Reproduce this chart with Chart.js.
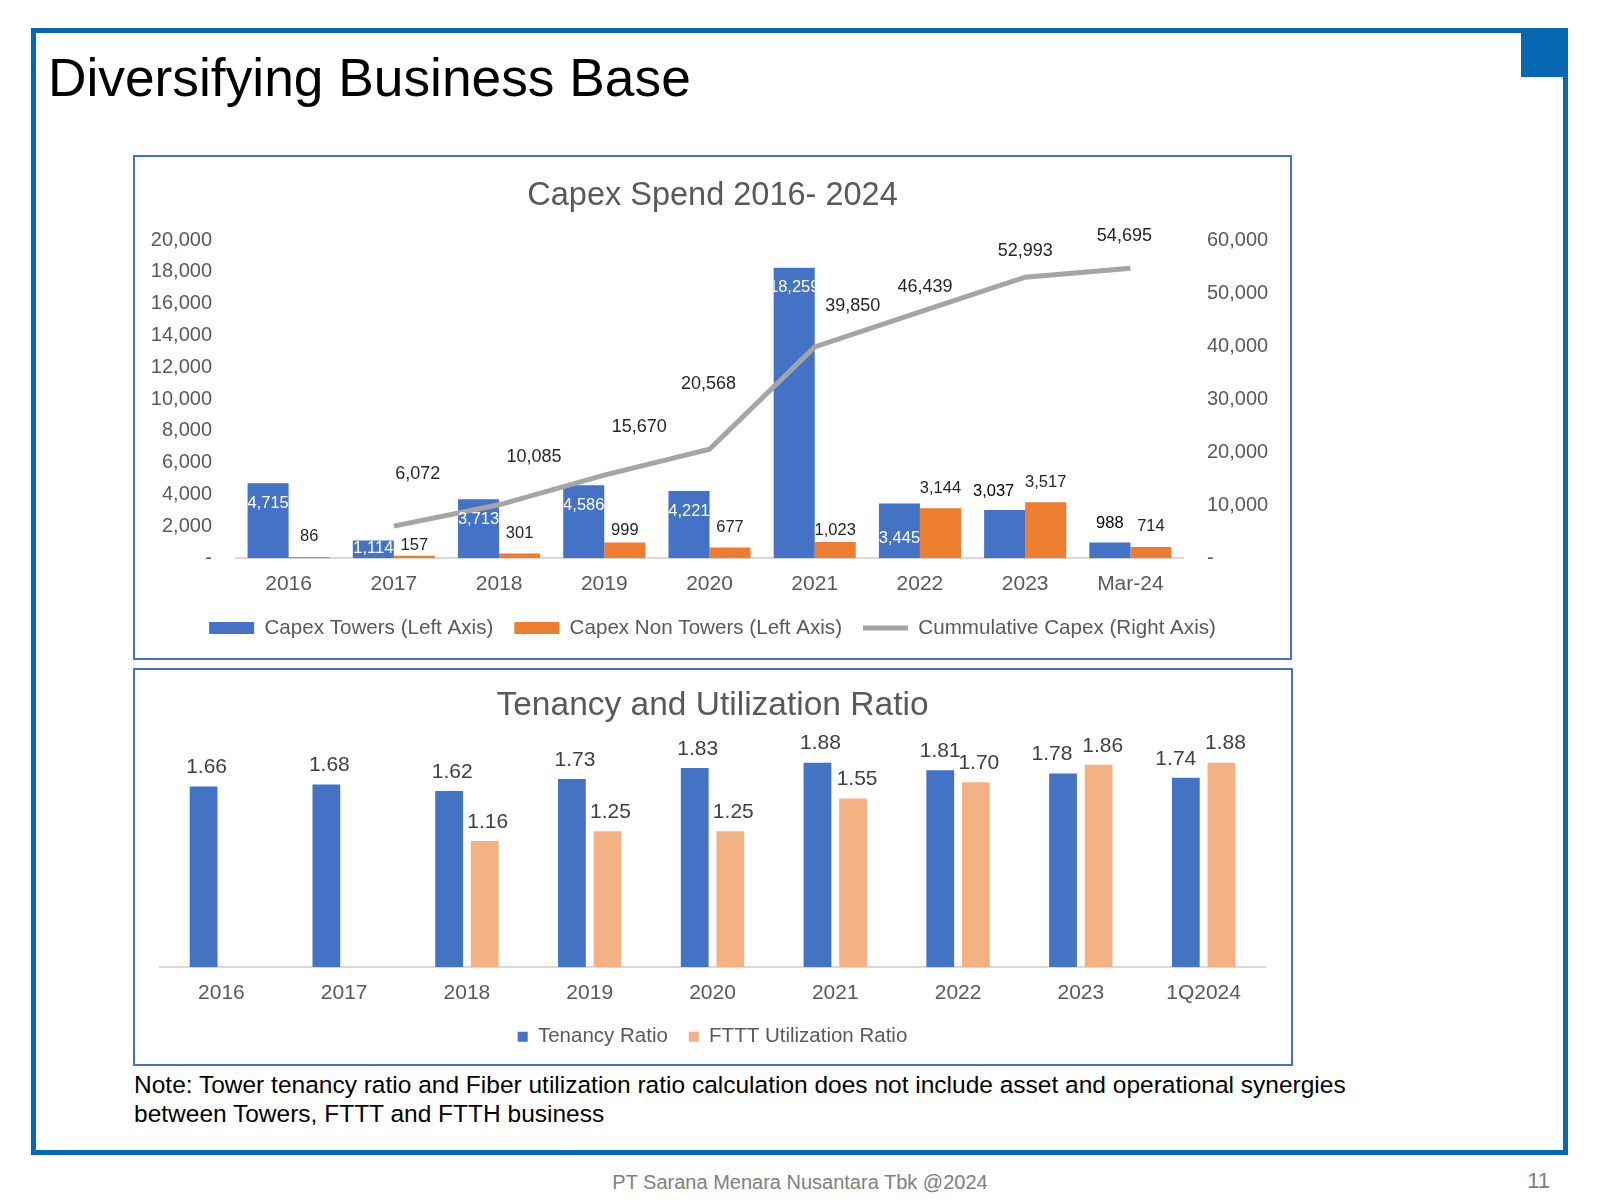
<!DOCTYPE html>
<html>
<head>
<meta charset="utf-8">
<title>Diversifying Business Base</title>
<script src="https://cdn.jsdelivr.net/npm/chart.js@4.4.1/dist/chart.umd.min.js"></script>
<style>
  body { margin: 0; background: #fff; font-family: "Liberation Sans", Arial, sans-serif; }
  #page { position: relative; width: 1600px; height: 1200px; overflow: hidden; }
  .frame { position: absolute; box-sizing: border-box; left: 31px; top: 28px; width: 1537px; height: 1127px; border: 5px solid #0769b4; }
  .corner { position: absolute; left: 1521px; top: 28px; width: 47px; height: 49px; background: #0769b4; }
  .heading { position: absolute; left: 48px; top: 51px; font-size: 53.3px; line-height: 1; color: #000; white-space: nowrap; }
  .box { position: absolute; box-sizing: border-box; border: 2px solid #4472c4; }
  canvas { position: absolute; }
  .note { position: absolute; left: 134px; top: 1071px; font-size: 24.5px; line-height: 28.7px; color: #000; white-space: nowrap; }
  .footer { position: absolute; left: 0; width: 1600px; top: 1172px; text-align: center; font-size: 20px; line-height: 1; color: #808080; }
  .pageno { position: absolute; right: 50px; top: 1170px; font-size: 22px; line-height: 1; color: #808080; }
</style>
</head>
<body>
<div id="page">
  <div class="frame"></div>
  <div class="corner"></div>
  <div class="heading">Diversifying Business Base</div>

  <div class="box" style="left:133px;top:155px;width:1159px;height:505px;"></div>
  <canvas id="capexChart" width="1157" height="503" style="left:134px;top:156px;"></canvas>

  <div class="box" style="left:133px;top:668px;width:1160px;height:398px;"></div>
  <canvas id="ratioChart" width="1158" height="396" style="left:134px;top:669px;"></canvas>

  <div class="note">Note: Tower tenancy ratio and Fiber utilization ratio calculation does not include asset and operational synergies<br>between Towers, FTTT and FTTH business</div>
  <div class="footer">PT Sarana Menara Nusantara Tbk @2024</div>
  <div class="pageno">11</div>
</div>

<script>
// Capex chart data (IDR bn)
const capexYears = ['2016', '2017', '2018', '2019', '2020', '2021', '2022', '2023', 'Mar-24'];
const capexTowers = [4715, 1114, 3713, 4586, 4221, 18259, 3445, 3037, 988];
const capexNonTowers = [86, 157, 301, 999, 677, 1023, 3144, 3517, 714];
const cumulativeCapex = [null, 6072, 10085, 15670, 20568, 39850, 46439, 52993, 54695];

// Tenancy chart data
const ratioYears = ['2016', '2017', '2018', '2019', '2020', '2021', '2022', '2023', '1Q2024'];
const tenancyRatio = [1.66, 1.68, 1.62, 1.73, 1.83, 1.88, 1.81, 1.78, 1.74];
const ftttRatio = [null, null, 1.16, 1.25, 1.25, 1.55, 1.70, 1.86, 1.88];

// where the data labels sit (style only)
const towerLabelPlace = ['in', 'in', 'in', 'in', 'in', 'in', 'base', 'above', 'above'];
const towerLabelDx = [0, 0, 0, 0, 0, 0, 0, -11, 0];
const nonTowerLabelDy = [20, 10, 20, 12, 20, 12, 20, 20, 20];
const cumLabelShift = [null, [24, -53], [35, -49], [35, -49], [-1, -66], [38, -42], [5, -26], [0, -27], [-6, -33]];
const tenancyLabelDx = [3, 3, 3, 3, 3, 3, 0, -11, -10];
const ftttLabelDx = [3, 3, 3, 3, 3, 4, 3, 4, 4];

const FONT = '"Liberation Sans", Arial, sans-serif';
const TEXT = '#595959';
Chart.defaults.font.family = FONT;
Chart.defaults.color = TEXT;

const fmt = v => v.toLocaleString('en-US');

// data labels for the capex chart
const capexLabels = {
    id: 'capexLabels',
    afterDatasetsDraw(chart) {
        const ctx = chart.ctx;
        const base = chart.scales.y.getPixelForValue(0);
        ctx.save();
        ctx.textAlign = 'center';
        ctx.textBaseline = 'middle';
        ctx.font = '16.5px ' + FONT;

        chart.getDatasetMeta(0).data.forEach((bar, i) => {
            const txt = fmt(capexTowers[i]);
            const place = towerLabelPlace[i];
            if (place === 'above') {
                ctx.fillStyle = '#000';
                ctx.fillText(txt, bar.x + towerLabelDx[i], bar.y - 19);
                return;
            }
            const y = place === 'base' ? base - 20 : Math.min(bar.y + 20, base - 10);
            ctx.save();
            ctx.beginPath();
            ctx.rect(bar.x - bar.width / 2, 0, bar.width, chart.height);
            ctx.clip();
            ctx.fillStyle = '#fff';
            ctx.fillText(txt, bar.x, y);
            ctx.restore();
        });

        ctx.fillStyle = '#262626';
        chart.getDatasetMeta(1).data.forEach((bar, i) => {
            ctx.fillText(fmt(capexNonTowers[i]), bar.x, bar.y - nonTowerLabelDy[i]);
        });

        ctx.font = '18px ' + FONT;
        ctx.fillStyle = '#262626';
        chart.getDatasetMeta(2).data.forEach((pt, i) => {
            if (cumulativeCapex[i] == null) return;
            const s = cumLabelShift[i];
            ctx.fillText(fmt(cumulativeCapex[i]), pt.x + s[0], pt.y + s[1] + 1);
        });
        ctx.restore();
    }
};

const ratioLabels = {
    id: 'ratioLabels',
    afterDatasetsDraw(chart) {
        const ctx = chart.ctx;
        ctx.save();
        ctx.textAlign = 'center';
        ctx.textBaseline = 'middle';
        ctx.font = '21px ' + FONT;
        ctx.fillStyle = '#404040';
        chart.getDatasetMeta(0).data.forEach((bar, i) => {
            ctx.fillText(tenancyRatio[i].toFixed(2), bar.x + tenancyLabelDx[i], bar.y - 19);
        });
        chart.getDatasetMeta(1).data.forEach((bar, i) => {
            if (ftttRatio[i] == null) return;
            ctx.fillText(ftttRatio[i].toFixed(2), bar.x + ftttLabelDx[i], bar.y - 19);
        });
        ctx.restore();
    }
};

new Chart(document.getElementById('capexChart'), {
    type: 'bar',
    data: {
        labels: capexYears,
        datasets: [{
            label: 'Capex Towers (Left Axis)',
            data: capexTowers,
            backgroundColor: '#4472c4',
            yAxisID: 'y',
            order: 1,
            categoryPercentage: 0.78,
            barPercentage: 1.0
        }, {
            label: 'Capex Non Towers (Left Axis)',
            data: capexNonTowers,
            backgroundColor: '#ed7d31',
            yAxisID: 'y',
            order: 1,
            categoryPercentage: 0.78,
            barPercentage: 1.0
        }, {
            type: 'line',
            label: 'Cummulative Capex (Right Axis)',
            data: cumulativeCapex,
            borderColor: '#a5a5a5',
            backgroundColor: '#a5a5a5',
            borderWidth: 5,
            pointRadius: 0,
            tension: 0,
            yAxisID: 'y1',
            order: 0
        }]
    },
    options: {
        responsive: false,
        animation: false,
        layout: { padding: { left: 0, right: 0, top: 0, bottom: 10.6 } },
        plugins: {
            tooltip: { enabled: false },
            title: {
                display: true,
                text: 'Capex Spend 2016- 2024',
                color: TEXT,
                font: { size: 32.5, weight: 'normal' },
                padding: { top: 20.5, bottom: 24.5 }
            },
            legend: {
                position: 'bottom',
                labels: {
                    color: TEXT,
                    font: { size: 20.6 },
                    usePointStyle: true,
                    pointStyleWidth: 45,
                    boxHeight: 12,
                    padding: 21,
                    sort: (a, b) => a.datasetIndex - b.datasetIndex,
                    generateLabels(chart) {
                        const items = Chart.defaults.plugins.legend.labels.generateLabels(chart);
                        items.forEach(it => {
                            const ds = chart.data.datasets[it.datasetIndex];
                            if (ds.type === 'line') {
                                it.pointStyle = 'line';
                                it.lineWidth = 5;
                                it.strokeStyle = '#a5a5a5';
                            } else {
                                it.pointStyle = 'rect';
                                it.lineWidth = 0;
                            }
                        });
                        return items;
                    }
                }
            }
        },
        scales: {
            x: {
                grid: { display: false, drawTicks: false },
                border: { display: true, color: '#d9d9d9', width: 2 },
                ticks: { color: TEXT, font: { size: 21 }, padding: 13 },
                afterFit(s) { s.height = 38.5; }
            },
            y: {
                position: 'left',
                min: 0,
                max: 20000,
                grid: { display: false, drawTicks: false },
                border: { display: false },
                ticks: {
                    stepSize: 2000,
                    padding: 24,
                    color: TEXT,
                    font: { size: 20 },
                    callback: v => v === 0 ? '-' : fmt(v)
                },
                afterFit(s) { s.width = 102; }
            },
            y1: {
                position: 'right',
                min: 0,
                max: 60000,
                grid: { display: false, drawTicks: false },
                border: { display: false },
                ticks: {
                    stepSize: 10000,
                    padding: 24,
                    color: TEXT,
                    font: { size: 20 },
                    callback: v => v === 0 ? '-' : fmt(v)
                },
                afterFit(s) { s.width = 108; }
            }
        }
    },
    plugins: [capexLabels]
});

new Chart(document.getElementById('ratioChart'), {
    type: 'bar',
    data: {
        labels: ratioYears,
        datasets: [{
            label: 'Tenancy Ratio',
            data: tenancyRatio,
            backgroundColor: '#4472c4',
            categoryPercentage: 0.58,
            barPercentage: 0.78
        }, {
            label: 'FTTT Utilization Ratio',
            data: ftttRatio,
            backgroundColor: '#f4b183',
            categoryPercentage: 0.58,
            barPercentage: 0.78
        }]
    },
    options: {
        responsive: false,
        animation: false,
        layout: { padding: { left: 26, right: 27, top: 0, bottom: 8 } },
        plugins: {
            tooltip: { enabled: false },
            title: {
                display: true,
                text: 'Tenancy and Utilization Ratio',
                color: TEXT,
                font: { size: 33.5, weight: 'normal' },
                padding: { top: 16.4, bottom: 24 }
            },
            legend: {
                position: 'bottom',
                labels: {
                    color: TEXT,
                    font: { size: 20.5 },
                    boxWidth: 10,
                    boxHeight: 10,
                    padding: 21
                }
            }
        },
        scales: {
            x: {
                grid: { display: false, drawTicks: false },
                border: { display: true, color: '#d9d9d9', width: 2 },
                ticks: { color: TEXT, font: { size: 21 }, padding: 13.4 },
                afterFit(s) { s.height = 38.5; }
            },
            y: { display: false, min: 0, max: 2.0 }
        }
    },
    plugins: [ratioLabels]
});
</script>
</body>
</html>
